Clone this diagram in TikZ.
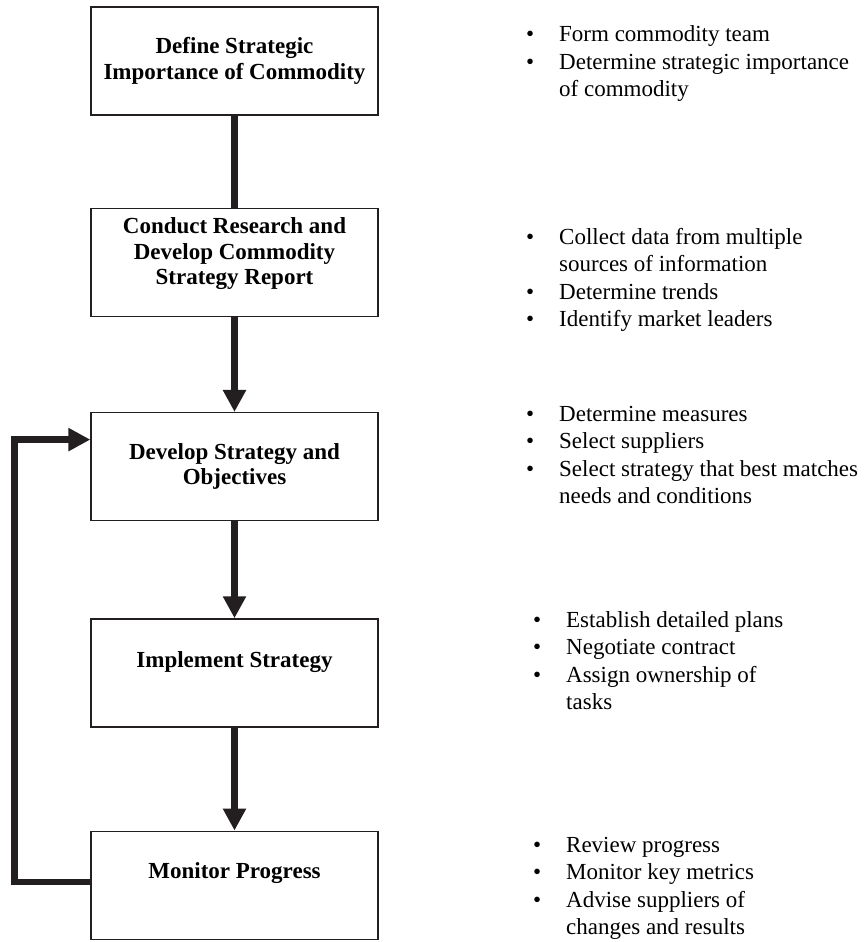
\documentclass[tikz,border=0pt]{standalone}
\usepackage{fontspec}
\setmainfont{Liberation Serif}
\usetikzlibrary{arrows.meta, positioning}
\definecolor{inkblack}{HTML}{231F20}
\tikzset{
  stepbox/.style={
    rectangle,
    minimum width=287pt,
    minimum height=108pt,
    inner sep=0pt,
    align = center,
    draw=inkblack,
    line width = 1.3pt,
    font=\fontsize{23}{25.5}\selectfont\bfseries,
  },
  notes/.style={
    anchor=base west,
    inner sep=0pt,
    font=\fontsize{23}{27.5}\selectfont,
  },
  link/.style={
    line width = 6.5pt,
    draw=inkblack,
    },
  arrow/.style={
    link,
    -{Triangle[width=22pt,length=22pt]},
    },
}
\newcommand{\bulletlist}[1]{\begin{tabular}[t]{@{}p{33pt}@{}l@{}}#1\end{tabular}}

\begin{document}
\begin{tikzpicture}
    \useasboundingbox (0,0) rectangle (865pt,-942pt);
    % steps
    \node (define) [stepbox] at (234.5pt,-61pt) {Define Strategic\\Importance of Commodity};
    \node (research) [stepbox, below = 92pt of define] {Conduct Research and\\Develop Commodity\\Strategy Report\\[-3pt]};
    \node (develop) [stepbox, below = 95pt of research] {Develop Strategy and\\Objectives};
    \node (implement) [stepbox, below = 97pt of develop] {Implement Strategy\\[2pt]};
    \node (monitor) [stepbox, below = 103pt of implement] {Monitor Progress\\[3pt]};
    % notes
    \node (define-notes) [notes] at (526pt,-42pt) {\bulletlist{%
      \textbullet & Form commodity team\\
      \textbullet & Determine strategic importance\\
                  & of commodity}};
    \node (research-notes) [notes] at (526pt,-244pt) {\bulletlist{%
      \textbullet & Collect data from multiple\\
                  & sources of information\\
      \textbullet & Determine trends\\
      \textbullet & Identify market leaders}};
    \node (develop-notes) [notes] at (526pt,-421pt) {\bulletlist{%
      \textbullet & Determine measures\\
      \textbullet & Select suppliers\\
      \textbullet & Select strategy that best matches\\
                  & needs and conditions}};
    \node (implement-notes) [notes] at (533pt,-627pt) {\bulletlist{%
      \textbullet & Establish detailed plans\\
      \textbullet & Negotiate contract\\
      \textbullet & Assign ownership of\\
                  & tasks}};
    \node (monitor-notes) [notes] at (533pt,-852pt) {\bulletlist{%
      \textbullet & Review progress\\
      \textbullet & Monitor key metrics\\
      \textbullet & Advise suppliers of\\
                  & changes and results}};
    % connectors
    \draw [link] (define) -- (research);
    \draw [arrow] (research) -- (develop);
    \draw [arrow] (develop) -- (implement);
    \draw [arrow] (implement) -- (monitor);
    \draw [arrow] ([yshift=3pt]monitor.west) -- ++(-76pt,0) |- ([yshift=27pt]develop.west);
  \end{tikzpicture}
\end{document}
